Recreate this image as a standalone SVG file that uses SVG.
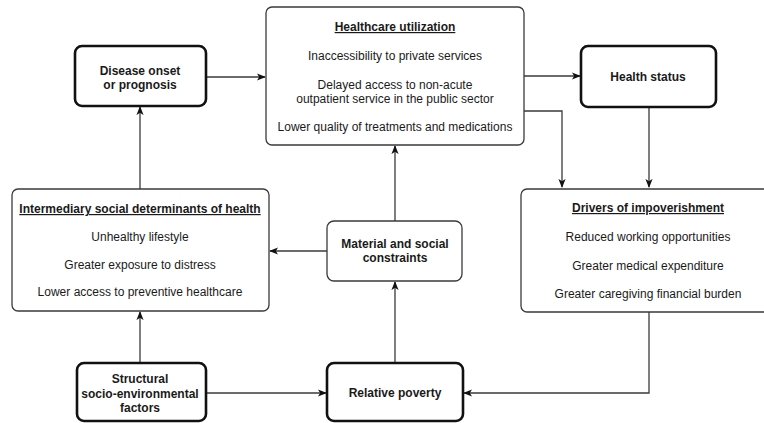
<svg xmlns="http://www.w3.org/2000/svg" width="764" height="423" viewBox="0 0 764 423">
<defs>
<style>
.t{font-family:"Liberation Sans",Arial,Helvetica,sans-serif;font-size:12px;fill:#1a1a1a;text-anchor:middle}
.b{font-weight:bold}
.u{font-weight:bold;text-decoration:underline}
.thin{fill:#fff;stroke:#3a3a3a;stroke-width:1.3}
.thick{fill:#fff;stroke:#111;stroke-width:2.6}
.c{fill:none;stroke:#3a3a3a;stroke-width:1.3}
</style>
<marker id="a" viewBox="0 0 10 10" refX="9" refY="5" markerWidth="9" markerHeight="9" markerUnits="userSpaceOnUse" orient="auto">
<path d="M0,1 L10,5 L0,9 L2.5,5 Z" fill="#111"/>
</marker>
</defs>
<rect width="764" height="423" fill="#fff"/>
<g id="connectors">
<path class="c" d="M206,77 H265" marker-end="url(#a)"/>
<path class="c" d="M524,76 H580" marker-end="url(#a)"/>
<path class="c" d="M524,111 H562 V187" marker-end="url(#a)"/>
<path class="c" d="M649,107 V187" marker-end="url(#a)"/>
<path class="c" d="M649,312 V393 H464" marker-end="url(#a)"/>
<path class="c" d="M206,393 H326" marker-end="url(#a)"/>
<path class="c" d="M395,362 V282" marker-end="url(#a)"/>
<path class="c" d="M395,221 V146" marker-end="url(#a)"/>
<path class="c" d="M327,251 H270" marker-end="url(#a)"/>
<path class="c" d="M140,362 V312" marker-end="url(#a)"/>
<path class="c" d="M140,189 V107" marker-end="url(#a)"/>
</g>
<g id="healthcare">
<rect class="thin" x="266" y="7" width="258" height="138" rx="6"/>
<text class="t u" x="395" y="31">Healthcare utilization</text>
<text class="t" x="395" y="60">Inaccessibility to private services</text>
<text class="t" x="395" y="89">Delayed access to non-acute</text>
<text class="t" x="395" y="103">outpatient service in the public sector</text>
<text class="t" x="395" y="131">Lower quality of treatments and medications</text>
</g>
<g id="disease">
<rect class="thick" x="75" y="46" width="131" height="60" rx="7"/>
<text class="t b" x="140" y="75">Disease onset</text>
<text class="t b" x="140" y="89">or prognosis</text>
</g>
<g id="health-status">
<rect class="thick" x="581" y="46" width="135" height="61" rx="7"/>
<text class="t b" x="648" y="81">Health status</text>
</g>
<g id="drivers">
<rect class="thin" x="521" y="189" width="255" height="123" rx="6"/>
<text class="t u" x="648" y="212">Drivers of impoverishment</text>
<text class="t" x="648" y="241">Reduced working opportunities</text>
<text class="t" x="648" y="270">Greater medical expenditure</text>
<text class="t" x="648" y="298">Greater caregiving financial burden</text>
</g>
<g id="intermediary">
<rect class="thin" x="12" y="189" width="257" height="122" rx="6"/>
<text class="t u" x="140" y="213">Intermediary social determinants of health</text>
<text class="t" x="140" y="241">Unhealthy lifestyle</text>
<text class="t" x="140" y="269">Greater exposure to distress</text>
<text class="t" x="140" y="296">Lower access to preventive healthcare</text>
</g>
<g id="material">
<rect class="thin" x="327" y="221" width="135" height="60" rx="7"/>
<text class="t b" x="395" y="248">Material and social</text>
<text class="t b" x="395" y="262">constraints</text>
</g>
<g id="structural">
<rect class="thick" x="77" y="363" width="129" height="58" rx="7"/>
<text class="t b" x="140" y="383">Structural</text>
<text class="t b" x="140" y="398">socio-environmental</text>
<text class="t b" x="140" y="412">factors</text>
</g>
<g id="poverty">
<rect class="thick" x="327" y="363" width="136" height="58" rx="7"/>
<text class="t b" x="395" y="397">Relative poverty</text>
</g>
</svg>
